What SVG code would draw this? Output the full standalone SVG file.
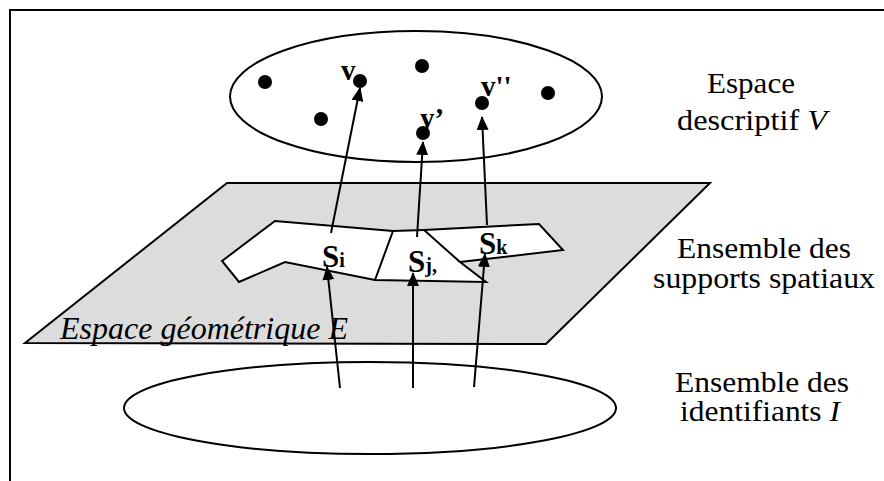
<svg xmlns="http://www.w3.org/2000/svg" width="884" height="481" viewBox="0 0 884 481" font-family="Liberation Serif">
<defs>
<marker id="ah" viewBox="0 0 14 12" refX="13" refY="6" markerWidth="14" markerHeight="12" markerUnits="userSpaceOnUse" orient="auto">
<path d="M0,0 L14,6 L0,12 z" fill="#000"/>
</marker>
</defs>
<style>
.ln{fill:none;stroke:#000;stroke-width:2}
.ar{fill:none;stroke:#000;stroke-width:2;marker-end:url(#ah)}
.lbl{font-size:29px}
.it{font-style:italic}
.b{font-weight:bold}
.dot{fill:#000}
</style>
<rect width="884" height="481" fill="#fff"/>
<g id="frame"><path class="ln" d="M10,481 L10,10 L884,10"/></g>
<g id="plane">
<polygon points="227,183 710,183 546,344 25,343" fill="#dcdcdc" stroke="#000" stroke-width="2"/>
<text class="it" font-family="Liberation Serif" font-size="31" x="60" y="339" textLength="288" lengthAdjust="spacingAndGlyphs">Espace géométrique E</text>
</g>
<g id="supports">
<polygon points="222,261 275,221 393,231 424,230 539,224 563,250 460,262 486,282 375,280 285,262 239,282" fill="#fff" stroke="#000" stroke-width="2"/>
<path class="ln" d="M393,231 L375,280 M424,230 L460,262"/>
<text class="b" font-family="Liberation Serif" x="322" y="267" font-size="31">S<tspan font-size="20">i</tspan></text>
<text class="b" font-family="Liberation Serif" x="408" y="272" font-size="31">S<tspan font-size="20">j,</tspan></text>
<text class="b" font-family="Liberation Serif" x="479" y="254" font-size="31">S<tspan font-size="20">k</tspan></text>
</g>
<g id="descriptif">
<ellipse class="ln" cx="416" cy="96.5" rx="186" ry="65.5"/>
<circle class="dot" cx="265" cy="82" r="7"/>
<circle class="dot" cx="360" cy="81" r="7"/>
<circle class="dot" cx="422" cy="66" r="7"/>
<circle class="dot" cx="321" cy="119" r="7"/>
<circle class="dot" cx="423" cy="133" r="7"/>
<circle class="dot" cx="482" cy="103" r="7"/>
<circle class="dot" cx="548" cy="93" r="7"/>
<text class="b" font-family="Liberation Serif" x="341" y="80" font-size="29">v</text>
<text class="b" font-family="Liberation Serif" x="420" y="128" font-size="29">y’</text>
<text class="b" font-family="Liberation Serif" x="481" y="96" font-size="29">v''</text>
</g>
<g id="identifiants">
<ellipse class="ln" cx="370" cy="408" rx="246" ry="46"/>
</g>
<g id="labels" font-family="Liberation Serif">
<text class="lbl" x="751" y="93" text-anchor="middle" textLength="88" lengthAdjust="spacingAndGlyphs">Espace</text>
<text class="lbl" x="752" y="130" text-anchor="middle" textLength="150" lengthAdjust="spacingAndGlyphs">descriptif <tspan class="it">V</tspan></text>
<text class="lbl" x="764" y="258" text-anchor="middle" textLength="174" lengthAdjust="spacingAndGlyphs">Ensemble des</text>
<text class="lbl" x="764" y="288" text-anchor="middle" textLength="222" lengthAdjust="spacingAndGlyphs">supports spatiaux</text>
<text class="lbl" x="762" y="392" text-anchor="middle" textLength="174" lengthAdjust="spacingAndGlyphs">Ensemble des</text>
<text class="lbl" x="760" y="421" text-anchor="middle" textLength="160" lengthAdjust="spacingAndGlyphs">identifiants <tspan class="it">I</tspan></text>
</g>
<g id="connectors">
<line class="ar" x1="331" y1="233" x2="360" y2="88"/>
<line class="ar" x1="417" y1="237" x2="423" y2="142"/>
<line class="ar" x1="487" y1="225" x2="482" y2="117"/>
<line class="ar" x1="340" y1="388" x2="327" y2="267"/>
<line class="ar" x1="413" y1="388" x2="413" y2="273"/>
<line class="ar" x1="474" y1="387" x2="485" y2="254"/>
</g>
</svg>
